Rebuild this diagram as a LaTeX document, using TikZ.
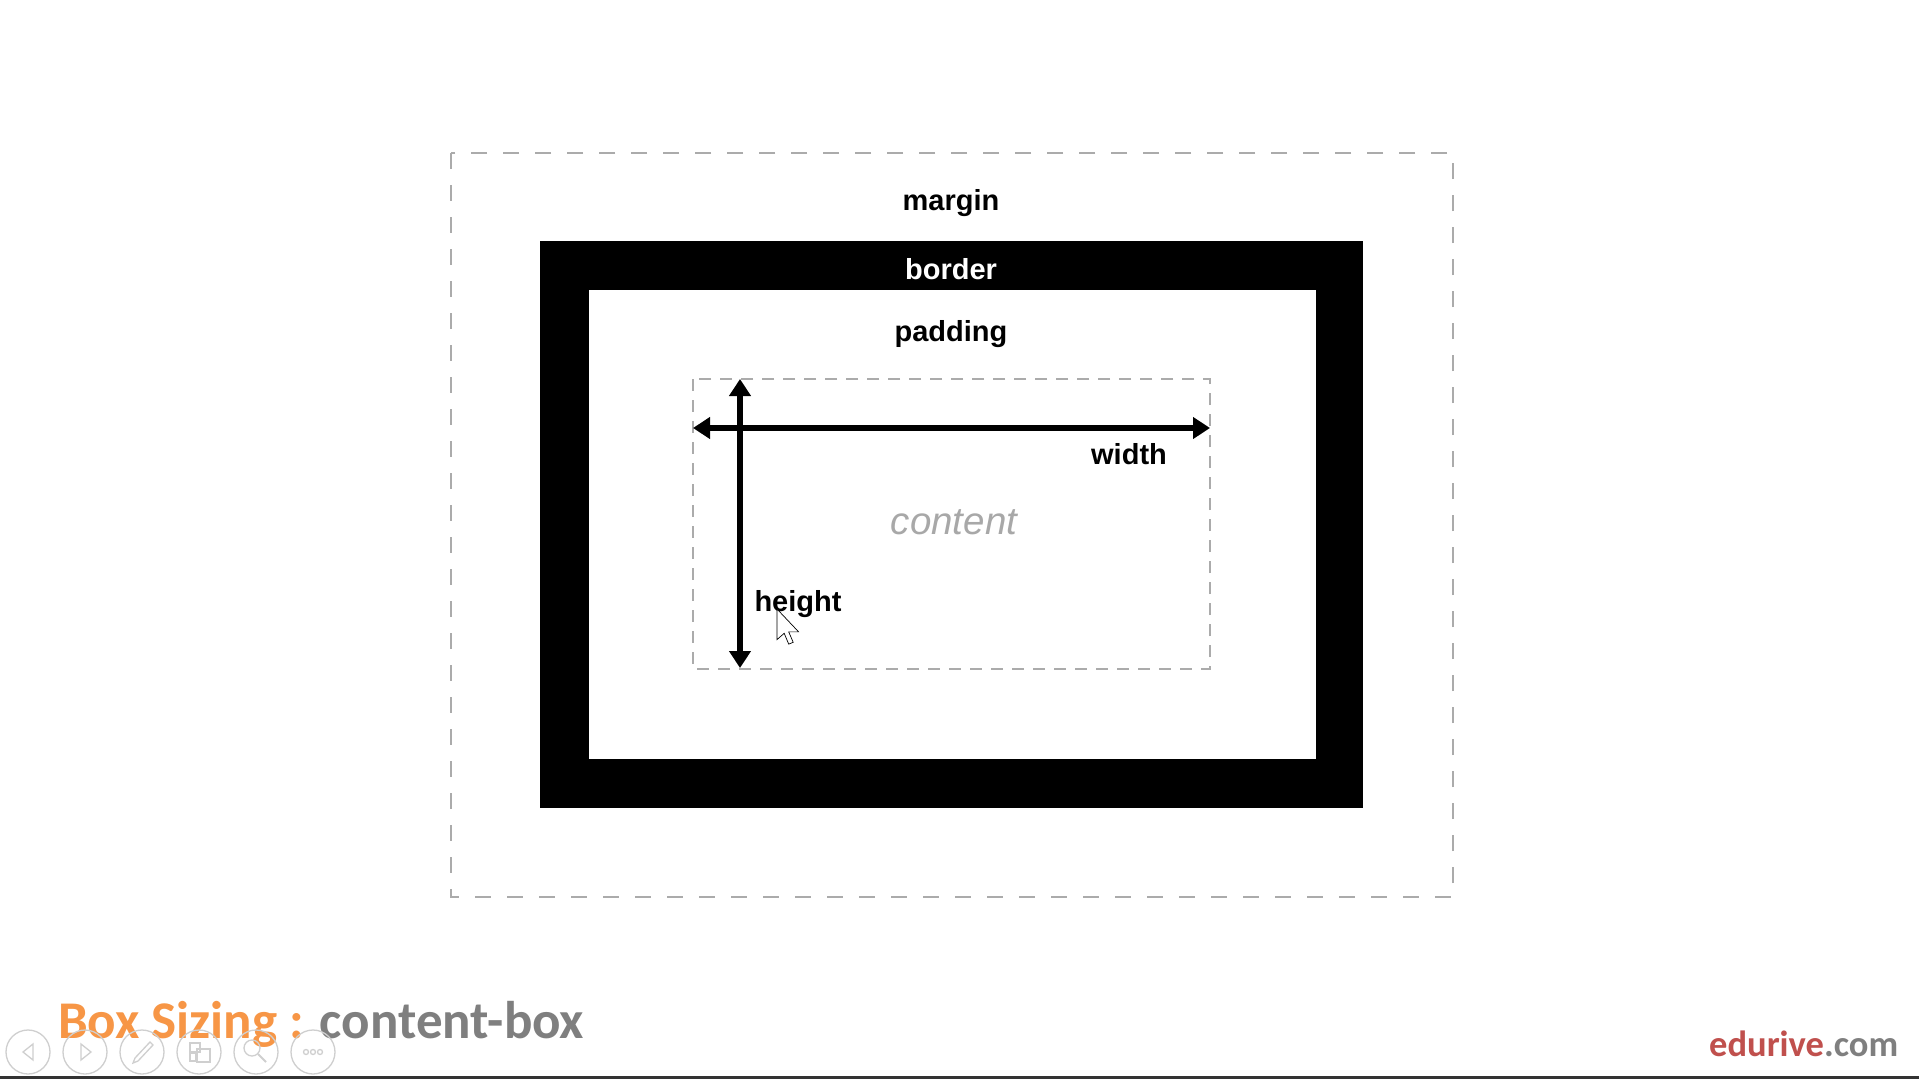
\documentclass[tikz,border=0pt]{standalone}
\usepackage{fontspec}
\setmainfont{Liberation Sans}
\newfontfamily\calfont{Carlito}
\usetikzlibrary{arrows.meta}
\definecolor{dashgray}{HTML}{ABABAB}
\definecolor{contentgray}{HTML}{A8A8A8}
\definecolor{titleorange}{HTML}{F79646}
\definecolor{titlegray}{HTML}{7F7F7F}
\definecolor{brandred}{HTML}{C0504D}
\definecolor{ctrlgray}{HTML}{CFCFCF}
\tikzset{
  lbl/.style={anchor=base, inner sep=0pt, font=\fontsize{29}{34}\selectfont\bfseries},
  marginbox/.style={draw=dashgray, line width=2pt, dash pattern=on 16pt off 16pt},
  contentbox/.style={draw=dashgray, line width=1.5pt, dash pattern=on 12pt off 9pt},
  dimarrow/.style={line width=6pt, {Triangle[length=17pt,width=21pt]}-{Triangle[length=17pt,width=21pt]}},
  ctrl/.style={draw=ctrlgray, line width=1.3pt},
}
\begin{document}
\begin{tikzpicture}[x=1pt,y=-1pt]
\useasboundingbox (0,0) rectangle (1919,1079);
\fill[white] (0,0) rectangle (1919,1079);
% margin box
\draw[marginbox] (451,153) rectangle (1453,897);
% border
\fill[black] (540,241) rectangle (1363,808);
\fill[white] (589,290) rectangle (1316,759);
% content box
\draw[contentbox] (693,379) rectangle (1210,669);
% labels
\node[lbl] (margin) at (951,210) {margin};
\node[lbl, text=white] (border) at (951,279) {border};
\node[lbl] (padding) at (951,341) {padding};
\node[lbl] (width) at (1129,464) {width};
\node[lbl] (height) at (798,611) {height};
\node[anchor=base, inner sep=0pt, text=contentgray, font=\fontsize{38.5}{44}\selectfont\itshape] (content) at (954,534) {content};
% dimension arrows
\coordinate (wL) at (693,428);
\coordinate (wR) at (1210,428);
\coordinate (hT) at (740,379);
\coordinate (hB) at (740,668);
\draw[dimarrow] (wL) -- (wR);
\draw[dimarrow] (hT) -- (hB);
% mouse cursor
\begin{scope}[shift={(777,609)}, scale=1.8]
\draw[fill=white, line width=0.7pt, line join=miter] (0,0) -- (0,17) -- (4,13.5) -- (6.5,19.5) -- (9,18.5) -- (6.5,12.7) -- (12,12.7) -- cycle;
\end{scope}
% title
\node[anchor=base west, inner sep=0pt, font=\calfont\fontsize{53}{62}\selectfont\bfseries] (title) at (58,1038) {\textcolor{titleorange}{Box Sizing :} \textcolor{titlegray}{content-box}};
\node[anchor=base west, inner sep=0pt, font=\calfont\fontsize{36.5}{42}\selectfont\bfseries] (brand) at (1709,1056) {\textcolor{brandred}{edurive}\textcolor{titlegray}{.com}};
% slideshow controls
\foreach \i/\cx in {1/28,2/85,3/142,4/199,5/256,6/313} {
  \draw[ctrl] (\cx,1052) circle (22);
}
\draw[ctrl] (33,1044) -- (23,1052) -- (33,1060) -- cycle;
\draw[ctrl] (81,1044) -- (91,1052) -- (81,1060) -- cycle;
\draw[ctrl] (133,1063) -- (135,1058) -- (150,1042) -- (153,1045) -- (138,1061) -- cycle;
\draw[ctrl] (190,1043) rectangle (200,1052);
\draw[ctrl] (190,1053) rectangle (196,1061);
\draw[ctrl] (197,1049) rectangle (210,1062);
\draw[ctrl] (252,1048) circle (8);
\draw[ctrl, line width=2pt] (258,1054) -- (266,1062);
\foreach \dx in {-7,0,7} { \draw[ctrl] (313+\dx,1052) circle (2.5); }
% bottom bar
\draw[black!80, line width=3pt] (0,1077.5) -- (1919,1077.5);
\end{tikzpicture}
\end{document}
